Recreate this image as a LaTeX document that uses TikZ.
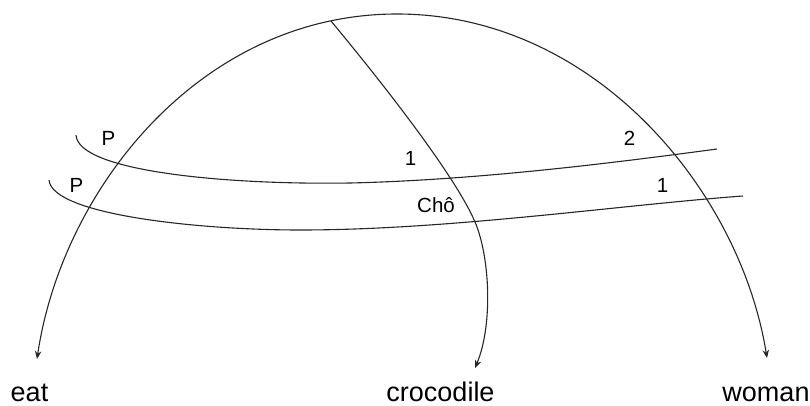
\documentclass[tikz,border=0pt]{standalone}
\usepackage{fontspec}
\setmainfont{Liberation Sans}
\usetikzlibrary{arrows.meta}
\begin{document}
\begin{tikzpicture}[x=1pt,y=-1pt,
  link/.style={line width=1.1pt,draw=black!85},
  tip/.style={-{Stealth[length=8pt,width=6.5pt]}},
  bothtip/.style={{Stealth[length=8pt,width=6.5pt]}-{Stealth[length=8pt,width=6.5pt]}},
  word/.style={inner sep=0pt,anchor=base,font=\fontsize{27}{30}\selectfont},
  lab/.style={inner sep=0pt,anchor=base,font=\fontsize{20.5}{24}\selectfont}]
\useasboundingbox (0,0) rectangle (810,406);
% end points
\coordinate (eatend) at (37,359);
\coordinate (top) at (397,14);
\coordinate (womanend) at (767,358);
\coordinate (junc) at (331,21);
\coordinate (mid) at (475,222);
\coordinate (crocend) at (475,368);
\coordinate (ua) at (76,135);
\coordinate (um) at (350,183);
\coordinate (ub) at (717,149);
\coordinate (la) at (49,180);
\coordinate (lm) at (300,230);
\coordinate (lb) at (743,196);
% big arc
\draw[link,bothtip] (eatend) .. controls (62,190) and (200,14) .. (top)
   .. controls (594,14) and (740,190) .. (womanend);
% middle curve
\draw[link,tip] (junc) .. controls (380,80) and (455,175) .. (mid)
   .. controls (490,257) and (493,325) .. (crocend);
% strands
\draw[link] (ua) .. controls (78,172) and (230,185) .. (um)
   .. controls (480,180) and (620,162) .. (ub);
\draw[link] (la) .. controls (52,215) and (200,230) .. (lm)
   .. controls (450,230) and (620,205) .. (lb);
% labels
\node[lab] (p1) at (108.5,146) {P};
\node[lab] (p2) at (76.5,193) {P};
\node[lab] (n1) at (410.5,166) {1};
\node[lab] (cho) at (436,212) {Chô};
\node[lab] (n2) at (629.5,146) {2};
\node[lab] (n3) at (662.5,192) {1};
\node[word] (eat) at (29.5,401) {eat};
\node[word] (croc) at (440.5,401) {crocodile};
\node[word] (woman) at (766,401) {woman};
\end{tikzpicture}
\end{document}
